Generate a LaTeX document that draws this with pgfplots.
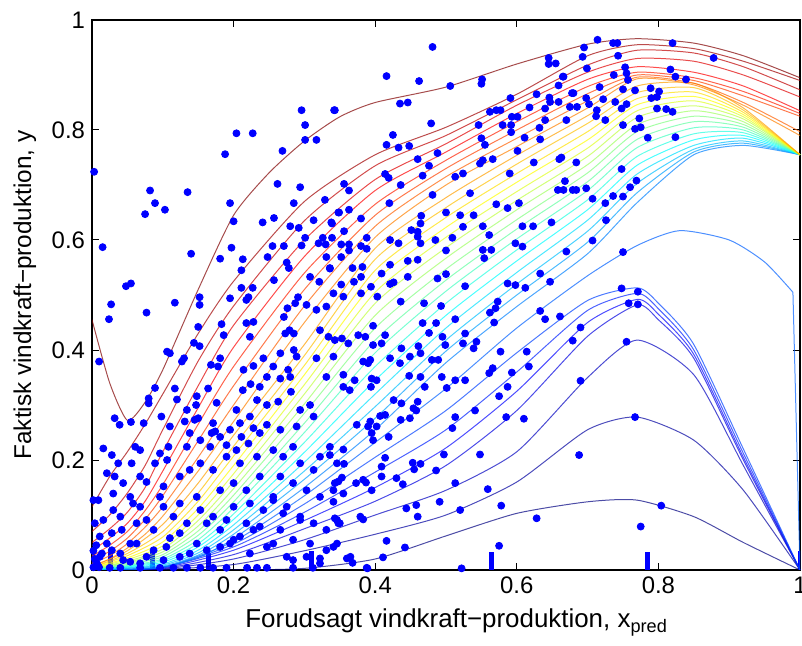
\documentclass[border=0pt]{standalone}
\usepackage{fontspec}
\setmainfont{Liberation Sans}
\usepackage{pgfplots}
\pgfplotsset{compat=1.18}
\definecolor{pt}{rgb}{0,0,1}
\definecolor{c0}{rgb}{0,0,0.5}
\definecolor{c1}{rgb}{0,0,0.625}
\definecolor{c2}{rgb}{0,0,0.75}
\definecolor{c3}{rgb}{0,0,0.875}
\definecolor{c4}{rgb}{0,0,1}
\definecolor{c5}{rgb}{0,0.125,1}
\definecolor{c6}{rgb}{0,0.25,1}
\definecolor{c7}{rgb}{0,0.375,1}
\definecolor{c8}{rgb}{0,0.5,1}
\definecolor{c9}{rgb}{0,0.625,1}
\definecolor{c10}{rgb}{0,0.75,1}
\definecolor{c11}{rgb}{0,0.875,1}
\definecolor{c12}{rgb}{0,1,1}
\definecolor{c13}{rgb}{0.125,1,0.875}
\definecolor{c14}{rgb}{0.25,1,0.75}
\definecolor{c15}{rgb}{0.375,1,0.625}
\definecolor{c16}{rgb}{0.5,1,0.5}
\definecolor{c17}{rgb}{0.625,1,0.375}
\definecolor{c18}{rgb}{0.75,1,0.25}
\definecolor{c19}{rgb}{0.875,1,0.125}
\definecolor{c20}{rgb}{1,1,0}
\definecolor{c21}{rgb}{1,0.875,0}
\definecolor{c22}{rgb}{1,0.75,0}
\definecolor{c23}{rgb}{1,0.625,0}
\definecolor{c24}{rgb}{1,0.5,0}
\definecolor{c25}{rgb}{1,0.375,0}
\definecolor{c26}{rgb}{1,0.25,0}
\definecolor{c27}{rgb}{1,0.125,0}
\definecolor{c28}{rgb}{1,0,0}
\definecolor{c29}{rgb}{0.875,0,0}
\definecolor{c30}{rgb}{0.75,0,0}
\definecolor{c31}{rgb}{0.625,0,0}
\definecolor{c32}{rgb}{0.5,0,0}
\pgfplotsset{q/.style={draw=#1, line width=0.5pt, draw opacity=0.7, smooth, tension=0.4, no markers}}
\begin{document}
\begin{tikzpicture}
\begin{axis}[name=ax,
  scale only axis, width=354bp, height=275bp,
  xmin=0, xmax=1, ymin=0, ymax=1,
  xtick={0,0.2,0.4,0.6,0.8,1}, ytick={0,0.2,0.4,0.6,0.8,1},
  tick align=inside, major tick length=3.5bp,
  tick style={black, line width=0.5pt},
  axis line style={black, line width=0.6pt},
  ticklabel style={font=\fontsize{12}{14}\selectfont},
  /pgf/number format/assume math mode=true,
  xlabel={Forudsagt vindkraft−produktion, x\textsubscript{pred}},
  ylabel={Faktisk vindkraft−produktion, y},
  xlabel style={font=\fontsize{13}{15}\selectfont, at={(axis description cs:0.515,-0.104)}, anchor=base},
  ylabel style={font=\fontsize{12.2}{14}\selectfont, at={(axis description cs:-0.095,0.5)}, anchor=center},
]
% scatter points
\addplot[only marks, mark=*, mark size=1.75bp, color=pt, mark options={draw=pt, fill=pt}] coordinates {
(0.003,0.724)(0.015,0.587)(0.082,0.690)(0.089,0.667)(0.075,0.647)(0.103,0.655)(0.135,0.687)(0.14,0.575)(0.048,0.516)(0.055,0.521)(0.188,0.756)(0.204,0.794)(0.227,0.794)(0.195,0.667)(0.2,0.634)(0.197,0.586)(0.181,0.566)(0.213,0.565)(0.211,0.545)(0.211,0.513)(0.227,0.513)(0.152,0.496)(0.221,0.496)(0.296,0.836)(0.301,0.809)(0.342,0.836)(0.301,0.782)(0.317,0.782)(0.269,0.762)(0.262,0.702)(0.294,0.696)(0.285,0.667)(0.329,0.673)(0.348,0.650)(0.241,0.632)(0.257,0.64)(0.280,0.625)(0.292,0.622)(0.313,0.636)(0.338,0.632)(0.301,0.604)(0.296,0.590)(0.255,0.589)(0.271,0.589)(0.326,0.604)(0.32,0.594)(0.33,0.592)(0.248,0.569)(0.275,0.559)(0.278,0.549)(0.331,0.569)(0.336,0.548)(0.257,0.527)(0.308,0.533)(0.321,0.524)(0.341,0.503)(0.291,0.496)
(0.481,0.951)(0.416,0.898)(0.462,0.889)(0.343,0.836)(0.435,0.848)(0.446,0.850)(0.506,0.88)(0.551,0.892)(0.550,0.884)(0.479,0.812)(0.425,0.791)(0.416,0.773)(0.433,0.768)(0.448,0.771)(0.488,0.758)(0.46,0.747)(0.476,0.735)(0.467,0.717)(0.414,0.72)(0.419,0.713)(0.356,0.702)(0.363,0.69)(0.436,0.70)(0.339,0.630)(0.349,0.65)(0.363,0.655)(0.380,0.639)(0.42,0.667)(0.356,0.616)(0.339,0.604)(0.352,0.592)(0.363,0.592)(0.363,0.581)(0.352,0.569)(0.38,0.589)(0.388,0.584)(0.388,0.604)(0.368,0.549)(0.382,0.551)(0.380,0.533)(0.336,0.549)(0.352,0.519)(0.355,0.497)(0.370,0.524)(0.380,0.503)(0.394,0.515)(0.403,0.497)(0.409,0.539)(0.421,0.555)(0.421,0.52)(0.426,0.523)(0.446,0.562)(0.446,0.533)(0.46,0.564)(0.421,0.6)(0.433,0.594)(0.451,0.618)(0.46,0.615)(0.464,0.63)(0.46,0.606)(0.464,0.594)(0.485,0.6)(0.5,0.581)(0.509,0.604)(0.524,0.624)(0.465,0.644)(0.481,0.682)(0.5,0.65)(0.52,0.645)(0.539,0.645)(0.552,0.625)(0.513,0.715)(0.524,0.721)(0.534,0.685)(0.548,0.739)(0.552,0.745)(0.566,0.747)(0.546,0.809)(0.550,0.785)(0.555,0.773)(0.562,0.833)(0.571,0.836)(0.577,0.836)(0.58,0.809)(0.592,0.809)(0.593,0.824)(0.601,0.824)(0.591,0.858)(0.592,0.796)(0.601,0.762)(0.590,0.721)(0.571,0.665)(0.587,0.658)(0.603,0.667)(0.608,0.625)(0.623,0.625)(0.598,0.594)(0.608,0.588)(0.618,0.841)(0.628,0.865)(0.640,0.839)(0.611,0.786)(0.624,0.741)(0.633,0.783)(0.632,0.804)(0.640,0.818)(0.645,0.931)(0.655,0.921)(0.645,0.920)(0.665,0.897)(0.659,0.881)(0.693,0.933)(0.695,0.950)(0.699,0.912)(0.646,0.859)(0.647,0.851)(0.659,0.851)(0.670,0.818)(0.678,0.867)(0.66,0.747)(0.684,0.741)(0.668,0.707)(0.666,0.691)(0.658,0.691)(0.679,0.691)(0.684,0.691)(0.698,0.694)(0.649,0.632)(0.670,0.579)(0.633,0.539)(0.647,0.524)(0.587,0.521)(0.598,0.518)(0.612,0.513)(0.527,0.516)(0.5,0.538)(0.488,0.53)(0.552,0.582)(0.564,0.582)(0.554,0.567)(0.561,0.609)
(0.714,0.964)(0.736,0.958)(0.742,0.958)(0.820,0.958)(0.743,0.935)(0.878,0.931)(0.753,0.914)(0.755,0.903)(0.737,0.9)(0.757,0.891)(0.817,0.910)(0.824,0.897)(0.839,0.892)(0.666,0.897)(0.717,0.878)(0.750,0.874)(0.767,0.872)(0.789,0.876)(0.801,0.870)(0.790,0.858)(0.798,0.860)(0.68,0.867)(0.698,0.858)(0.675,0.842)(0.685,0.842)(0.702,0.847)(0.722,0.856)(0.739,0.851)(0.748,0.839)(0.755,0.847)(0.713,0.836)(0.712,0.825)(0.725,0.818)(0.75,0.809)(0.773,0.821)(0.767,0.802)(0.775,0.805)(0.798,0.839)(0.811,0.838)(0.820,0.833)(0.785,0.786)(0.824,0.787)(0.663,0.750)(0.748,0.729)(0.707,0.675)(0.769,0.708)(0.760,0.696)(0.736,0.68)(0.750,0.679)(0.725,0.667)(0.726,0.636)(0.707,0.599)(0.75,0.578)(0.748,0.512)(0.771,0.506)
(0.661,0.461)(0.69,0.441)(0.679,0.417)(0.755,0.415)(0.69,0.344)(0.767,0.278)(0.688,0.209)(0.804,0.117)(0.775,0.079)(0.758,0.485)(0.771,0.483)
(0.436,0.488)(0.469,0.485)(0.493,0.48)(0.513,0.456)(0.573,0.488)(0.570,0.476)(0.562,0.468)(0.568,0.450)(0.633,0.471)(0.64,0.456)(0.467,0.449)(0.476,0.431)(0.486,0.449)(0.495,0.424)(0.499,0.409)(0.461,0.407)(0.464,0.394)(0.449,0.388)(0.437,0.403)(0.480,0.382)(0.489,0.382)(0.397,0.444)(0.376,0.427)(0.386,0.424)(0.414,0.427)(0.397,0.409)(0.409,0.412)(0.353,0.421)(0.362,0.412)(0.343,0.418)(0.383,0.379)(0.393,0.382)(0.39,0.376)(0.421,0.385)(0.435,0.376)(0.355,0.355)(0.355,0.333)(0.364,0.327)(0.395,0.348)(0.402,0.345)(0.394,0.333)(0.371,0.345)(0.448,0.353)(0.464,0.351)(0.470,0.333)(0.46,0.306)(0.426,0.309)(0.437,0.303)(0.454,0.294)(0.494,0.351)(0.527,0.43)(0.524,0.412)(0.543,0.415)(0.539,0.403)(0.513,0.345)(0.527,0.345)(0.501,0.331)(0.566,0.367)(0.561,0.358)(0.593,0.359)(0.587,0.333)(0.575,0.316)(0.614,0.397)(0.617,0.37)(0.577,0.397)(0.541,0.29)(0.585,0.278)(0.610,0.275)(0.513,0.278)(0.509,0.258)(0.436,0.273)(0.449,0.276)(0.458,0.29)(0.414,0.282)(0.407,0.280)(0.393,0.27)(0.374,0.264)(0.39,0.261)(0.402,0.261)(0.395,0.249)(0.397,0.236)(0.419,0.242)(0.355,0.219)(0.336,0.209)(0.356,0.193)(0.414,0.204)(0.409,0.188)(0.453,0.195)(0.464,0.193)(0.455,0.183)(0.486,0.181)(0.497,0.21)(0.548,0.21)(0.513,0.158)(0.559,0.147)(0.578,0.117)(0.52,0.109)(0.491,0.124)(0.628,0.094)(0.353,0.168)(0.348,0.161)(0.343,0.158)(0.355,0.139)(0.341,0.124)(0.373,0.158)(0.383,0.164)(0.387,0.159)(0.395,0.145)(0.409,0.17)(0.43,0.167)(0.439,0.156)(0.343,0.094)(0.348,0.085)(0.383,0.092)(0.444,0.112)(0.458,0.118)(0.46,0.097)(0.416,0.053)(0.442,0.041)(0.411,0.023)(0.365,0.024)(0.368,0.013)(0.389,0.003)(0.522,0.003)(0.575,0.044)
(0.027,0.483)(0.024,0.456)(0.117,0.486)(0.077,0.468)(0.152,0.482)(0.195,0.494)(0.218,0.491)(0.228,0.451)(0.218,0.449)(0.183,0.447)(0.186,0.427)(0.223,0.424)(0.15,0.442)(0.144,0.413)(0.152,0.407)(0.01,0.379)(0.106,0.397)(0.11,0.394)(0.13,0.385)(0.127,0.379)(0.168,0.373)(0.181,0.385)(0.178,0.37)(0.089,0.331)(0.080,0.312)(0.080,0.303)(0.117,0.330)(0.120,0.31)(0.148,0.316)(0.147,0.3)(0.164,0.33)(0.176,0.304)(0.204,0.291)(0.134,0.291)(0.15,0.276)(0.145,0.273)(0.032,0.276)(0.039,0.264)(0.055,0.269)(0.098,0.279)(0.073,0.267)(0.11,0.261)(0.131,0.27)(0.171,0.267)(0.169,0.249)(0.174,0.252)(0.214,0.364)(0.228,0.371)(0.242,0.385)(0.256,0.37)(0.247,0.351)(0.266,0.348)(0.277,0.364)(0.237,0.333)(0.224,0.338)(0.213,0.327)(0.233,0.309)(0.247,0.3)(0.263,0.306)(0.281,0.324)(0.280,0.351)(0.266,0.394)(0.285,0.4)(0.289,0.388)(0.273,0.43)(0.285,0.43)(0.279,0.436)(0.271,0.46)(0.276,0.476)(0.287,0.485)(0.303,0.482)(0.317,0.473)(0.331,0.479)(0.322,0.436)(0.334,0.424)(0.317,0.385)(0.341,0.388)(0.331,0.351)(0.294,0.291)(0.308,0.3)(0.313,0.279)(0.289,0.261)(0.266,0.255)(0.247,0.264)(0.228,0.258)(0.237,0.249)(0.211,0.242)(0.221,0.23)(0.204,0.218)(0.19,0.227)(0.134,0.224)(0.108,0.224)(0.096,0.212)(0.106,0.2)(0.089,0.194)(0.068,0.218)(0.061,0.224)(0.056,0.194)(0.037,0.194)(0.028,0.209)(0.016,0.221)(0.021,0.176)(0.032,0.17)(0.044,0.158)(0.068,0.17)(0.077,0.16)(0.101,0.152)(0.002,0.127)(0.009,0.127)(0.004,0.085)(0.016,0.091)(0.03,0.139)(0.03,0.109)(0.04,0.097)(0.042,0.073)(0.028,0.067)
(0.054,0.133)(0.058,0.121)(0.068,0.115)(0.063,0.085)(0.077,0.091)(0.087,0.073)(0.054,0.048)(0.063,0.048)(0.087,0.036)(0.105,0.042)(0.11,0.058)(0.124,0.067)(0.134,0.085)(0.115,0.097)(0.101,0.115)(0.096,0.133)(0.124,0.121)(0.148,0.133)(0.153,0.109)(0.162,0.085)(0.171,0.097)(0.19,0.091)(0.181,0.073)(0.2,0.115)(0.223,0.121)(0.242,0.109)(0.218,0.085)(0.228,0.073)(0.209,0.061)(0.195,0.048)(0.181,0.042)(0.162,0.036)(0.148,0.048)(0.138,0.03)(0.124,0.024)(0.101,0.018)(0.077,0.024)(0.068,0.012)(0.054,0.015)(0.044,0.018)(0.04,0.03)(0.028,0.036)(0.021,0.048)(0.011,0.024)(0.007,0.012)(0.011,0.061)
(0.256,0.218)(0.27,0.206)(0.284,0.224)(0.294,0.194)(0.313,0.182)(0.322,0.206)(0.336,0.224)(0.346,0.194)(0.266,0.17)(0.284,0.158)(0.303,0.145)(0.322,0.133)(0.341,0.145)(0.256,0.133)(0.275,0.115)(0.294,0.097)(0.313,0.085)(0.331,0.073)(0.346,0.091)(0.266,0.073)(0.284,0.055)(0.308,0.048)(0.331,0.036)(0.346,0.048)(0.275,0.024)(0.303,0.024)(0.322,0.012)(0.256,0.048)
(0.138,0.249)(0.153,0.236)(0.167,0.224)(0.181,0.242)(0.195,0.255)(0.209,0.267)(0.223,0.279)(0.19,0.206)(0.209,0.194)(0.171,0.182)(0.153,0.194)(0.138,0.182)(0.124,0.17)(0.181,0.145)(0.2,0.158)(0.218,0.145)(0.237,0.17)(0.233,0.206)
(0.025,0.004)(0.04,0.004)(0.068,0.004)(0.096,0.004)(0.115,0.004)(0.134,0.004)(0.153,0.004)(0.171,0.004)(0.19,0.004)(0.219,0.004)(0.233,0.004)(0.247,0.004)(0.284,0.004)(0.312,0.004)(0.388,0.004)
(0.284,0.018)(0.322,0.021)(0.36,0.021)(0.341,0.042)(0.35,0.085)(0.379,0.097)(0.294,0.091)(0.27,0.103)(0.247,0.042)(0.237,0.079)(0.256,0.127)(0.223,0.03)(0.2,0.055)
(0.002,0.005)(0.004,0.02)(0.002,0.035)(0.006,0.045)(0.01,0.005)(0.014,0.03)
};
% rug bars
\addplot[ycomb, draw=pt, line width=2.5bp, no markers] coordinates {(0,0.035)(0.026,0.035)(0.085,0.035)(0.165,0.03)(0.31,0.035)(0.564,0.032)(0.784,0.032)(1,0.035)};
% quantile curves
\addplot[q=c0] coordinates {(0,0)(0.2,0)(0.3,0.003)(0.4,0.02)(0.5,0.062)(0.6,0.103)(0.7,0.124)(0.77,0.127)(0.85,0.097)(0.92,0.05)(1,0)};
\addplot[q=c1] coordinates {(0,0)(0.1,0.001)(0.2,0.01)(0.3,0.035)(0.4,0.065)(0.5,0.1)(0.6,0.16)(0.7,0.255)(0.77,0.278)(0.85,0.236)(0.92,0.145)(1,0)};
\addplot[q=c2] coordinates {(0,0)(0.1,0.002)(0.2,0.02)(0.3,0.055)(0.4,0.1)(0.5,0.145)(0.6,0.215)(0.7,0.35)(0.77,0.418)(0.85,0.355)(0.92,0.19)(1,0)};
\addplot[q=c3] coordinates {(0,0)(0.1,0.003)(0.2,0.028)(0.3,0.075)(0.4,0.125)(0.5,0.19)(0.6,0.29)(0.7,0.425)(0.77,0.482)(0.8,0.455)(0.85,0.385)(0.92,0.2)(1,0)};
\addplot[q=c4] coordinates {(0,0)(0.1,0.004)(0.2,0.036)(0.3,0.09)(0.4,0.15)(0.5,0.222)(0.6,0.325)(0.7,0.45)(0.77,0.492)(0.8,0.465)(0.85,0.392)(0.92,0.205)(1,0)};
\addplot[q=c5] coordinates {(0,0)(0.1,0.005)(0.2,0.042)(0.3,0.105)(0.4,0.178)(0.5,0.255)(0.6,0.36)(0.7,0.472)(0.77,0.503)(0.8,0.475)(0.85,0.4)(0.92,0.212)(1,0)};
\addplot[q=c6] coordinates {(0,0)(0.1,0.005)(0.2,0.047)(0.3,0.12)(0.4,0.205)(0.5,0.29)(0.6,0.395)(0.7,0.49)(0.77,0.513)(0.8,0.485)(0.85,0.41)(0.92,0.22)(1,0)};
\addplot[q=c7] coordinates {(0,0)(0.1,0.005)(0.2,0.052)(0.3,0.135)(0.4,0.232)(0.5,0.33)(0.6,0.44)(0.7,0.535)(0.77,0.59)(0.83,0.617)(0.9,0.6)(0.95,0.56)(0.99,0.505)};
\addplot[draw=c7, line width=0.5pt, draw opacity=0.7, no markers] coordinates {(0.99,0.505)(1,0)};
\addplot[q=c8] coordinates {(0,0)(0.05,0.002)(0.1,0.005)(0.15,0.023)(0.2,0.057)(0.3,0.15)(0.4,0.255)(0.5,0.377)(0.6,0.479)(0.7,0.575)(0.77,0.668)(0.85,0.755)(0.92,0.772)(1,0.755)};
\addplot[q=c9] coordinates {(0,0)(0.05,0.003)(0.1,0.007)(0.15,0.027)(0.2,0.065)(0.3,0.165)(0.4,0.276)(0.5,0.398)(0.6,0.5)(0.7,0.596)(0.77,0.686)(0.85,0.76)(0.92,0.776)(1,0.755)};
\addplot[q=c10] coordinates {(0,0)(0.05,0.004)(0.1,0.009)(0.15,0.031)(0.2,0.073)(0.3,0.18)(0.4,0.297)(0.5,0.418)(0.6,0.52)(0.7,0.616)(0.77,0.703)(0.85,0.765)(0.92,0.78)(1,0.755)};
\addplot[q=c11] coordinates {(0,0.001)(0.05,0.005)(0.1,0.011)(0.15,0.036)(0.2,0.082)(0.3,0.196)(0.4,0.32)(0.5,0.44)(0.6,0.541)(0.7,0.636)(0.77,0.72)(0.85,0.772)(0.92,0.785)(1,0.755)};
\addplot[q=c12] coordinates {(0,0.001)(0.05,0.006)(0.1,0.014)(0.15,0.042)(0.2,0.092)(0.3,0.214)(0.4,0.345)(0.5,0.463)(0.6,0.562)(0.7,0.655)(0.77,0.736)(0.85,0.782)(0.92,0.79)(1,0.755)};
\addplot[q=c13] coordinates {(0,0.001)(0.05,0.007)(0.1,0.017)(0.15,0.048)(0.2,0.102)(0.3,0.232)(0.4,0.37)(0.5,0.485)(0.6,0.582)(0.7,0.673)(0.77,0.752)(0.85,0.793)(0.92,0.795)(1,0.755)};
\addplot[q=c14] coordinates {(0,0.002)(0.05,0.008)(0.1,0.02)(0.15,0.055)(0.2,0.113)(0.3,0.25)(0.4,0.395)(0.5,0.507)(0.6,0.602)(0.7,0.69)(0.77,0.768)(0.85,0.804)(0.92,0.80)(1,0.755)};
\addplot[q=c15] coordinates {(0,0.002)(0.05,0.01)(0.1,0.024)(0.15,0.063)(0.2,0.124)(0.3,0.267)(0.4,0.418)(0.5,0.527)(0.6,0.62)(0.7,0.706)(0.77,0.783)(0.85,0.815)(0.92,0.805)(1,0.755)};
\addplot[q=c16] coordinates {(0,0.002)(0.05,0.012)(0.1,0.028)(0.15,0.071)(0.2,0.136)(0.3,0.285)(0.4,0.44)(0.5,0.547)(0.6,0.637)(0.7,0.722)(0.77,0.797)(0.85,0.825)(0.92,0.81)(1,0.755)};
\addplot[q=c17] coordinates {(0,0.003)(0.05,0.014)(0.1,0.033)(0.15,0.08)(0.2,0.148)(0.3,0.302)(0.4,0.463)(0.5,0.567)(0.6,0.655)(0.7,0.737)(0.77,0.81)(0.85,0.835)(0.92,0.815)(1,0.755)};
\addplot[q=c18] coordinates {(0,0.003)(0.05,0.016)(0.1,0.038)(0.15,0.09)(0.2,0.161)(0.3,0.32)(0.4,0.485)(0.5,0.586)(0.6,0.672)(0.7,0.752)(0.77,0.823)(0.85,0.844)(0.92,0.82)(1,0.755)};
\addplot[q=c19] coordinates {(0,0.004)(0.05,0.019)(0.1,0.044)(0.15,0.1)(0.2,0.175)(0.3,0.337)(0.4,0.505)(0.5,0.605)(0.6,0.688)(0.7,0.767)(0.77,0.835)(0.85,0.853)(0.92,0.824)(1,0.755)};
\addplot[q=c20] coordinates {(0,0.004)(0.05,0.022)(0.1,0.051)(0.15,0.112)(0.2,0.19)(0.3,0.355)(0.4,0.525)(0.5,0.623)(0.6,0.705)(0.7,0.782)(0.77,0.846)(0.85,0.861)(0.92,0.828)(1,0.755)};
\addplot[q=c21] coordinates {(0,0.005)(0.05,0.026)(0.1,0.06)(0.15,0.125)(0.2,0.207)(0.3,0.372)(0.4,0.545)(0.5,0.641)(0.6,0.721)(0.7,0.797)(0.77,0.857)(0.85,0.869)(0.92,0.832)(1,0.755)};
\addplot[q=c22] coordinates {(0,0.005)(0.05,0.03)(0.1,0.07)(0.15,0.14)(0.2,0.225)(0.3,0.39)(0.4,0.565)(0.5,0.659)(0.6,0.738)(0.7,0.812)(0.77,0.868)(0.85,0.877)(0.92,0.836)(1,0.755)};
\addplot[q=c23] coordinates {(0,0.006)(0.05,0.035)(0.1,0.083)(0.15,0.158)(0.2,0.245)(0.3,0.41)(0.4,0.585)(0.5,0.677)(0.6,0.754)(0.7,0.826)(0.77,0.88)(0.85,0.885)(0.92,0.84)(1,0.755)};
\addplot[q=c24] coordinates {(0,0.008)(0.025,0.02)(0.05,0.04)(0.075,0.065)(0.1,0.098)(0.15,0.18)(0.2,0.27)(0.3,0.45)(0.4,0.605)(0.5,0.70)(0.6,0.77)(0.7,0.84)(0.77,0.893)(0.85,0.882)(0.92,0.845)(1,0.79)};
\addplot[q=c25] coordinates {(0,0.012)(0.025,0.026)(0.05,0.048)(0.075,0.078)(0.1,0.115)(0.15,0.205)(0.2,0.30)(0.3,0.48)(0.4,0.625)(0.5,0.715)(0.6,0.785)(0.7,0.853)(0.77,0.896)(0.85,0.885)(0.92,0.85)(1,0.797)};
\addplot[q=c26] coordinates {(0,0.018)(0.025,0.034)(0.05,0.058)(0.075,0.092)(0.1,0.135)(0.15,0.235)(0.2,0.335)(0.3,0.51)(0.4,0.645)(0.5,0.73)(0.6,0.80)(0.7,0.866)(0.77,0.9)(0.85,0.89)(0.92,0.862)(1,0.825)};
\addplot[q=c27] coordinates {(0,0.025)(0.025,0.045)(0.05,0.07)(0.075,0.108)(0.1,0.155)(0.15,0.265)(0.2,0.37)(0.3,0.54)(0.4,0.665)(0.5,0.745)(0.6,0.815)(0.7,0.879)(0.77,0.905)(0.85,0.895)(0.92,0.87)(1,0.83)};
\addplot[q=c28] coordinates {(0,0.035)(0.025,0.058)(0.05,0.085)(0.075,0.125)(0.1,0.18)(0.15,0.295)(0.2,0.405)(0.3,0.57)(0.4,0.69)(0.5,0.76)(0.6,0.83)(0.7,0.892)(0.77,0.915)(0.85,0.905)(0.92,0.88)(1,0.835)};
\addplot[q=c29] coordinates {(0,0.05)(0.025,0.075)(0.05,0.105)(0.075,0.15)(0.1,0.215)(0.15,0.335)(0.2,0.445)(0.3,0.60)(0.4,0.71)(0.5,0.775)(0.6,0.845)(0.7,0.905)(0.77,0.93)(0.85,0.925)(0.92,0.9)(1,0.86)};
\addplot[q=c30] coordinates {(0,0.07)(0.025,0.1)(0.05,0.14)(0.075,0.19)(0.1,0.255)(0.15,0.38)(0.2,0.48)(0.3,0.635)(0.4,0.735)(0.5,0.79)(0.6,0.855)(0.7,0.918)(0.77,0.945)(0.85,0.94)(0.92,0.915)(1,0.873)};
\addplot[q=c31] coordinates {(0,0.115)(0.025,0.17)(0.05,0.215)(0.075,0.265)(0.1,0.32)(0.15,0.43)(0.2,0.525)(0.3,0.67)(0.4,0.755)(0.5,0.805)(0.6,0.865)(0.7,0.935)(0.77,0.955)(0.85,0.948)(0.92,0.925)(1,0.89)};
\addplot[q=c32] coordinates {(0,0.455)(0.025,0.34)(0.05,0.272)(0.075,0.305)(0.1,0.364)(0.15,0.51)(0.2,0.645)(0.25,0.722)(0.3,0.78)(0.35,0.824)(0.4,0.85)(0.5,0.878)(0.6,0.92)(0.7,0.956)(0.77,0.966)(0.85,0.958)(0.92,0.935)(1,0.895)};
\end{axis}
\pgfresetboundingbox
\path[use as bounding box] ([shift={(-46bp,-38bp)}]ax.south west) rectangle ([shift={(1bp,10bp)}]ax.north east);
\end{tikzpicture}
\end{document}
